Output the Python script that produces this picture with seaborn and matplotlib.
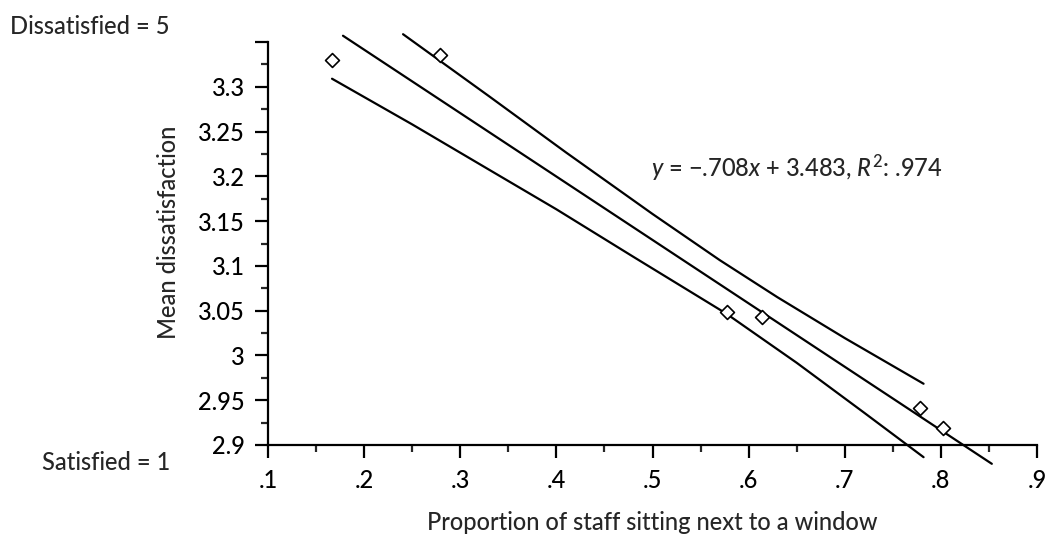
import matplotlib
matplotlib.use("Agg")
import matplotlib.pyplot as plt
import seaborn as sns
import pandas as pd
import numpy as np
from matplotlib.ticker import FixedLocator

# ---- data ----
pts_x = [0.167, 0.279, 0.577, 0.614, 0.778, 0.802]
pts_y = [3.330, 3.336, 3.048, 3.043, 2.941, 2.919]

fit_x = [0.178, 0.853]
fit_y = [3.357, 2.879]

upper_x = [0.2405, 0.33, 0.41, 0.50, 0.57, 0.63, 0.70, 0.782]
upper_y = [3.3587, 3.2894, 3.2267, 3.158, 3.1064, 3.065, 3.0194, 2.9684]

lower_x = [0.1666, 0.25, 0.33, 0.40, 0.48, 0.5766, 0.65, 0.72, 0.782]
lower_y = [3.309, 3.258, 3.2074, 3.1632, 3.1102, 3.0468, 2.9918, 2.9362, 2.8864]

x_major = [0.1, 0.2, 0.3, 0.4, 0.5, 0.6, 0.7, 0.8, 0.9]
x_labels = [".1", ".2", ".3", ".4", ".5", ".6", ".7", ".8", ".9"]
y_major = [2.9, 2.95, 3.0, 3.05, 3.1, 3.15, 3.2, 3.25, 3.3, 3.35]
y_labels = ["2.9", "2.95", "3", "3.05", "3.1", "3.15", "3.2", "3.25", "3.3", ""]

equation = "$y$ = \u2212.708$x$ + 3.483, $R^2$: .974"
title_top = "Dissatisfied = 5"
title_bottom = "Satisfied = 1"
xlabel = "Proportion of staff sitting next to a window"
ylabel = "Mean dissatisfaction"

sns.set_style("ticks")
plt.rcParams['font.family'] = ['Lato', 'DejaVu Sans']
plt.rcParams['font.weight'] = 'medium'
plt.rcParams['mathtext.fontset'] = 'custom'
plt.rcParams['mathtext.rm'] = 'Lato:medium'
plt.rcParams['mathtext.it'] = 'Lato:italic:medium'

FS = 17
W, H = 1047, 535
fig = plt.figure(figsize=(W / 100, H / 100), dpi=100)
ax = fig.add_axes([268 / W, 1 - 445 / H, (1037 - 268) / W, (445 - 42) / H])

lw = 1.6
sns.lineplot(x=fit_x, y=fit_y, ax=ax, color="black", lw=lw, sort=False)
sns.lineplot(x=upper_x, y=upper_y, ax=ax, color="black", lw=lw, sort=False)
sns.lineplot(x=lower_x, y=lower_y, ax=ax, color="black", lw=lw, sort=False)
for l in ax.lines:
    l.set_clip_on(False)
sns.scatterplot(x=pts_x, y=pts_y, ax=ax, marker="D", s=50, facecolor="white",
                edgecolor="black", linewidth=1.2, zorder=5, clip_on=False)

ax.set_xlim(0.1, 0.9)
ax.set_ylim(2.9, 3.35)
ax.xaxis.set_major_locator(FixedLocator(x_major))
ax.set_xticklabels(x_labels)
ax.xaxis.set_minor_locator(FixedLocator([v + 0.05 for v in x_major[:-1]]))
ax.yaxis.set_major_locator(FixedLocator(y_major))
ax.set_yticklabels(y_labels)
ax.yaxis.set_minor_locator(FixedLocator([v + 0.025 for v in y_major[:-1]]))

ax.tick_params(axis="both", which="major", length=9.5, width=1.6, direction="out",
               labelsize=FS, colors="black")
ax.tick_params(axis="both", which="minor", length=5, width=1.6, direction="out")
ax.tick_params(axis="x", which="major", pad=8)
ax.tick_params(axis="y", which="major", pad=7)
for s in ["top", "right"]:
    ax.spines[s].set_visible(False)
for s in ["left", "bottom"]:
    ax.spines[s].set_linewidth(1.6)
    ax.spines[s].set_color("black")
ax.set_xlabel("")
ax.set_ylabel("")

fig.text(652 / W, 1 - 523 / H, xlabel, ha="center", va="center", fontsize=FS)
fig.text(168 / W, 1 - 232 / H, ylabel, ha="center", va="center", rotation=90, fontsize=FS)
fig.text(10 / W, 1 - 27 / H, title_top, ha="left", va="center", fontsize=FS)
fig.text(170 / W, 1 - 462 / H, title_bottom, ha="right", va="center", fontsize=FS)
fig.text(797 / W, 1 - 168 / H, equation, ha="center", va="center", fontsize=FS)

fig.savefig("out.png", dpi=100)
